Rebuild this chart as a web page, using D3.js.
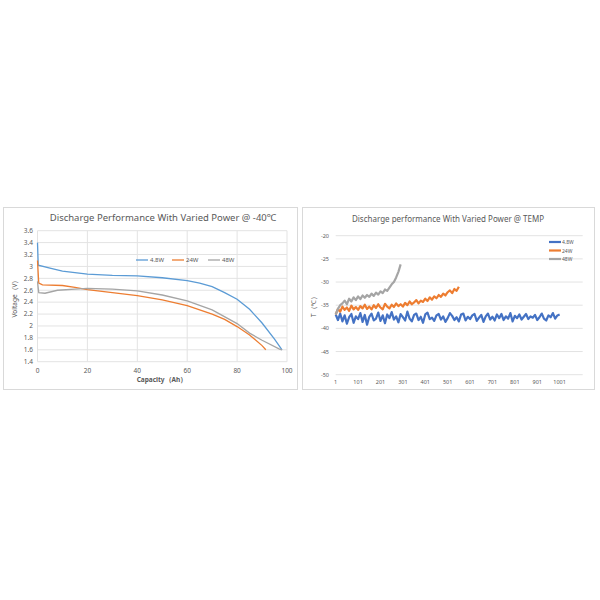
<!DOCTYPE HTML>
<html>
<head>
  <meta charset="utf-8">
  <script src="https://d3js.org/d3.v7.min.js"></script>
  <style>body{margin:0;background:#fff}text{font-family:"Noto Sans",sans-serif;fill:#595959}</style>
</head>
<body>
<script>
  // left chart: voltage vs capacity
  const capTicks = [0, 20, 40, 60, 80, 100];
  const voltTicks = [1.4, 1.6, 1.8, 2, 2.2, 2.4, 2.6, 2.8, 3, 3.2, 3.4, 3.6];
  const seriesNames = ['4.8W', '24W', '48W'];
  const v48 = [[0,3.4],[0.3,3.02],[5,2.97],[10,2.92],[20,2.87],[30,2.85],[40,2.84],[50,2.81],[60,2.76],[65,2.72],[70,2.66],[75,2.56],[80,2.45],[85,2.28],[90,2.05],[95,1.78],[98,1.6]];
  const v24 = [[0,3.1],[0.5,2.72],[2,2.69],[10,2.68],[15,2.65],[20,2.61],[30,2.56],[40,2.51],[50,2.44],[60,2.34],[70,2.2],[75,2.11],[80,1.99],[85,1.85],[90,1.67],[91.5,1.6]];
  const v480 = [[0,2.75],[0.5,2.56],[3,2.55],[8,2.6],[15,2.62],[20,2.63],[30,2.62],[40,2.59],[50,2.52],[60,2.42],[70,2.27],[80,2.04],[85,1.88],[90,1.76],[97,1.61],[98,1.6]];

  // right chart: temperature vs sample index (every 10 samples from 1)
  const idxTicks = [1, 101, 201, 301, 401, 501, 601, 701, 801, 901, 1001];
  const tempTicks = [-50, -45, -40, -35, -30, -25, -20];
  const t48 = [-37,-38.2,-36.8,-38.5,-37.2,-39,-37.6,-36.9,-38.8,-37.4,
    -38,-36.7,-38.6,-37.1,-39.2,-37.5,-36.8,-38.3,-37.9,-36.6,
    -38.4,-37.2,-38.9,-37,-37.8,-36.5,-38.1,-37.4,-38.7,-36.9,
    -37.6,-38.3,-36.4,-37.9,-38.5,-37.1,-36.8,-38.2,-37.5,-38.8,
    -37,-36.6,-38,-37.7,-38.4,-37.2,-36.9,-38.1,-37.4,-38.6,
    -37.8,-36.7,-37.3,-38.2,-37.6,-38.5,-37,-36.8,-38.3,-37.5,
    -38,-37.2,-36.9,-38.4,-37.7,-37.1,-38.6,-37.4,-36.8,-38.1,
    -37.5,-38.3,-37,-37.8,-36.9,-38.2,-37.4,-37.9,-36.7,-38.5,
    -37.3,-37.8,-37,-38.1,-37.5,-36.9,-38,-37.4,-37.7,-37.1,
    -38.2,-37.6,-36.8,-37.9,-38.3,-37.2,-37.6,-36.7,-37.9,-37.2,-37];
  const t24 = [-37,-35.8,-36.4,-35.3,-36,-35.5,-36.2,-35.1,-35.9,-35.4,
    -36,-35.2,-35.7,-34.9,-35.8,-35.3,-35.9,-35,-35.6,-34.8,
    -35.5,-35.9,-34.7,-35.3,-35.7,-34.9,-35.4,-34.6,-35.2,-34.8,
    -35.3,-34.5,-35,-34.2,-34.8,-34.4,-33.9,-34.6,-34,-34.3,
    -33.6,-34.1,-33.3,-33.8,-33.1,-33.5,-32.8,-33.2,-32.5,-32.9,
    -32.2,-31.8,-32.4,-31.5,-31.9,-31];
  const t480 = [-37,-35.8,-35,-34.6,-34,-34.8,-33.6,-34.2,-33.3,-33.9,
    -33.1,-33.7,-32.9,-33.4,-32.8,-33.2,-32.5,-33,-32.3,-32.7,
    -32,-32.4,-31.6,-31.9,-31.2,-30.5,-30,-29,-27.8,-26.2];

  const svg = d3.select('body').append('svg').attr('width', 600).attr('height', 600);

  // ---- left panel
  svg.append('rect').attr('x', 3.5).attr('y', 207.5).attr('width', 294).attr('height', 182)
    .attr('fill', '#fff').attr('stroke', '#d9d9d9');
  const lx = d3.scaleLinear().domain([0, 100]).range([37.5, 287]);
  const ly = d3.scaleLinear().domain([1.4, 3.6]).range([361.7, 230.7]);
  const L = svg.append('g');
  L.selectAll('.vg').data(capTicks).join('line')
    .attr('x1', d => lx(d)).attr('x2', d => lx(d)).attr('y1', ly(3.6)).attr('y2', ly(1.4)).attr('stroke', '#e3e3e3');
  L.selectAll('.hg').data(voltTicks).join('line')
    .attr('x1', lx(0)).attr('x2', lx(100)).attr('y1', d => ly(d)).attr('y2', d => ly(d)).attr('stroke', '#e3e3e3');
  L.selectAll('.xt').data(capTicks).join('text').attr('x', d => lx(d)).attr('y', 373)
    .attr('text-anchor', 'middle').attr('font-size', 6.5).text(d => d);
  L.selectAll('.yt').data(voltTicks).join('text').attr('x', 33).attr('y', d => ly(d) + 2.3)
    .attr('text-anchor', 'end').attr('font-size', 6.5).text(d => d);
  L.append('text').attr('x', 162).attr('y', 382).attr('text-anchor', 'middle').attr('font-size', 6.5)
    .attr('font-weight', 'bold').text('Capacity（Ah）');
  L.append('text').attr('transform', 'translate(17,297) rotate(-90)').attr('text-anchor', 'middle')
    .attr('font-size', 6.5).text('Voltage（V）');
  L.append('text').attr('x', 163).attr('y', 221).attr('text-anchor', 'middle').attr('font-size', 9.5)
    .text('Discharge Performance With Varied Power @ -40℃');
  const lcol = ['#5b9bd5', '#ed7d31', '#a5a5a5'];
  const lline = d3.line().x(d => lx(d[0])).y(d => ly(d[1]));
  [v48, v24, v480].forEach((s, i) => L.append('path').attr('d', lline(s)).attr('fill', 'none')
    .attr('stroke', lcol[i]).attr('stroke-width', 1.3));
  seriesNames.forEach((n, i) => {
    const x0 = 136 + i * 36;
    L.append('line').attr('x1', x0).attr('x2', x0 + 12).attr('y1', 260).attr('y2', 260)
      .attr('stroke', lcol[i]).attr('stroke-width', 1.3);
    L.append('text').attr('x', x0 + 14).attr('y', 262.3).attr('font-size', 6).text(n);
  });

  // ---- right panel
  svg.append('rect').attr('x', 302.5).attr('y', 207.5).attr('width', 292).attr('height', 182)
    .attr('fill', '#fff').attr('stroke', '#d9d9d9');
  const rx = d3.scaleLinear().domain([1, 1104]).range([335.7, 582.7]);
  const ry = d3.scaleLinear().domain([-50, -20]).range([374.7, 235.7]);
  const R = svg.append('g');
  R.selectAll('.hg').data(tempTicks).join('line')
    .attr('x1', rx(1)).attr('x2', rx(1104)).attr('y1', d => ry(d)).attr('y2', d => ry(d)).attr('stroke', '#e3e3e3');
  R.selectAll('.xt').data(idxTicks).join('text').attr('x', d => rx(d)).attr('y', 384)
    .attr('text-anchor', 'middle').attr('font-size', 5.5).text(d => d);
  R.selectAll('.yt').data(tempTicks).join('text').attr('x', 329).attr('y', d => ry(d) + 2)
    .attr('text-anchor', 'end').attr('font-size', 5.5).text(d => d);
  R.append('text').attr('transform', 'translate(316,305) rotate(-90)').attr('text-anchor', 'middle')
    .attr('font-size', 6.5).text('T（℃）');
  R.append('text').attr('x', 448).attr('y', 222).attr('text-anchor', 'middle').attr('font-size', 8)
    .text('Discharge performance With Varied Power @ TEMP');
  const rcol = ['#4472c4', '#ed7d31', '#a5a5a5'];
  const rline = d3.line().x((d, i) => rx(1 + i * 10)).y(d => ry(d));
  [t48, t24, t480].forEach((s, i) => R.append('path').attr('d', rline(s)).attr('fill', 'none')
    .attr('stroke', rcol[i]).attr('stroke-width', 2.2).attr('stroke-linejoin', 'round'));
  seriesNames.forEach((n, i) => {
    const y0 = 242 + i * 8.5;
    R.append('line').attr('x1', 549).attr('x2', 561).attr('y1', y0).attr('y2', y0)
      .attr('stroke', rcol[i]).attr('stroke-width', 2.2);
    R.append('text').attr('x', 562).attr('y', y0 + 2).attr('font-size', 5).text(n);
  });
</script>
</body>
</html>
